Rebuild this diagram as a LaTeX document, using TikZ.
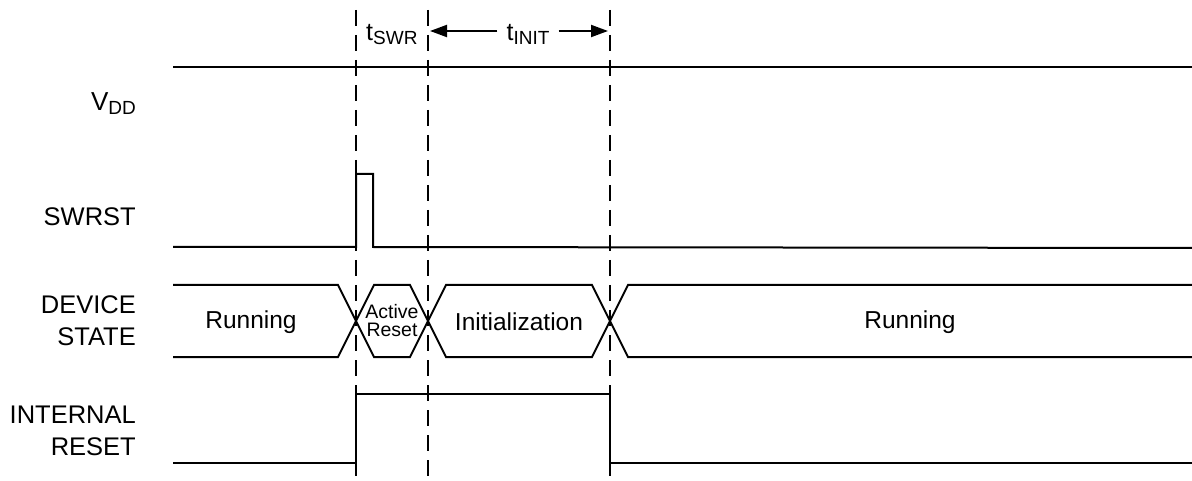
\documentclass[tikz,border=0pt]{standalone}
\usepackage{fontspec}
\setmainfont{Liberation Sans}
\usetikzlibrary{arrows.meta}
\newcommand{\mysub}[1]{\raisebox{-4pt}{\fontsize{19}{20}\selectfont #1}}
\begin{document}
\begin{tikzpicture}[x=1pt,y=-1pt,
  sig/.style={line width=2pt,line join=miter},
  guide/.style={line width=2pt,dash pattern=on 16pt off 9pt},
  lbl/.style={font=\fontsize{25.5}{32}\selectfont,align=right,anchor=east,inner sep=0pt},
  st/.style={font=\fontsize{24.5}{28}\selectfont,inner sep=0pt},
  small/.style={font=\fontsize{19.5}{20}\selectfont,inner sep=0pt,align=center},
  tim/.style={font=\fontsize{25}{28}\selectfont,inner sep=0pt,fill=white}]
\useasboundingbox (0,0) rectangle (1192,481);
% guide lines
\coordinate (g1t) at (356,10); \coordinate (g1b) at (356,481);
\coordinate (g2t) at (428,10); \coordinate (g2b) at (428,481);
\coordinate (g3t) at (610,10); \coordinate (g3b) at (610,481);
\draw[guide] (g1t) -- (g1b);
\draw[guide] (g2t) -- (g2b);
\draw[guide] (g3t) -- (g3b);
% timing labels
\node[tim,fill=none,anchor=base west] (tswr) at (366,41) {t\mysub{SWR}};
\coordinate (a1) at (430,31);
\coordinate (a2) at (608,31);
\node[tim,anchor=base,inner xsep=9pt] (tinit) at (528,41) {t\mysub{INIT}};
\draw[sig,-{Triangle[length=17pt,width=12pt]}] (tinit.west |- a1) -- (a1);
\draw[sig,-{Triangle[length=17pt,width=12pt]}] (tinit.east |- a2) -- (a2);
% left labels
\node[lbl,font=\fontsize{26}{30}\selectfont] (vdd) at (136,104) {V\mysub{DD}};
\node[lbl] (swrst) at (136,217) {SWRST};
\node[lbl] (dev) at (136,321) {DEVICE\\STATE};
\node[lbl] (irst) at (136,431) {INTERNAL\\RESET};
% VDD
\draw[sig] (173,67) -- (1192,67);
% SWRST
\draw[sig] (173,247) -- (356,247) -- (356,174) -- (373,174) -- (373,247) -- (1192,248);
% DEVICE STATE
\draw[sig] (173,285) -- (338,285) -- (374,357) -- (410,357) -- (446,285) -- (592,285) -- (628,357) -- (1192,357);
\draw[sig] (173,357) -- (338,357) -- (374,285) -- (410,285) -- (446,357) -- (592,357) -- (628,285) -- (1192,285);
\node[st] (run1) at (251,322) {Running};
\node[small] (act) at (392,321) {Active\\[-2pt]Reset};
\node[st] (init) at (519,322) {Initialization};
\node[st] (run2) at (910,322) {Running};
% INTERNAL RESET
\draw[sig] (173,463) -- (356,463) -- (356,394) -- (610,394) -- (610,463) -- (1192,463);
\end{tikzpicture}
\end{document}
